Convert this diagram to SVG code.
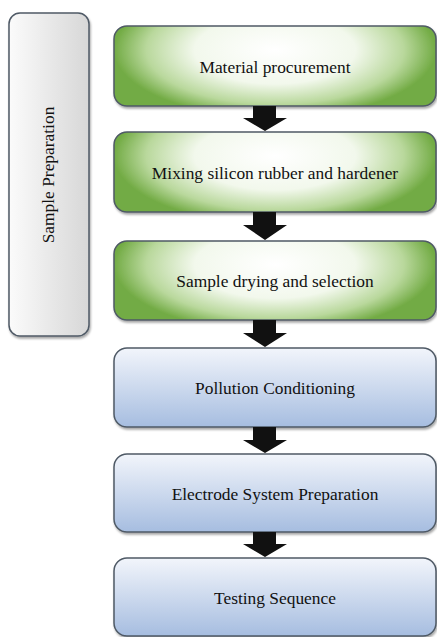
<svg xmlns="http://www.w3.org/2000/svg" width="437" height="637" viewBox="0 0 437 637">
  <defs>
    <radialGradient id="gGreen" cx="0.5" cy="0.3" r="0.5" gradientTransform="translate(0.5,0.3) scale(1,1.7) translate(-0.5,-0.3)">
      <stop offset="0" stop-color="#ffffff"/>
      <stop offset="0.5" stop-color="#f2f8ec"/>
      <stop offset="0.8" stop-color="#b9d89c"/>
      <stop offset="1" stop-color="#72ab44"/>
    </radialGradient>
    <linearGradient id="gBlue" x1="0" y1="0" x2="0" y2="1">
      <stop offset="0" stop-color="#f2f5fb"/>
      <stop offset="1" stop-color="#a6bde0"/>
    </linearGradient>
    <linearGradient id="gGray" x1="0" y1="0" x2="1" y2="0">
      <stop offset="0" stop-color="#fbfbfb"/>
      <stop offset="1" stop-color="#d7d7d7"/>
    </linearGradient>
    <filter id="shadow" x="-5%" y="-5%" width="115%" height="120%">
      <feDropShadow dx="1" dy="2" stdDeviation="1.2" flood-color="#000" flood-opacity="0.35"/>
    </filter>
  </defs>
  <style>
    .box { stroke: #4f5a66; stroke-width: 1.5; filter: url(#shadow); }
    .green { fill: url(#gGreen); }
    .blue { fill: url(#gBlue); }
    .gray { fill: url(#gGray); }
    .label { font-family: "Liberation Serif", "Times New Roman", serif; font-size: 17.4px; fill: #111111; text-anchor: middle; }
    .arrow { fill: #111111; }
  </style>

  <g id="sample-preparation">
    <rect class="box gray" x="9" y="13" width="80" height="323" rx="11"/>
    <text class="label" transform="translate(54,175) rotate(-90)" x="0" y="0">Sample Preparation</text>
  </g>

  <g id="material-procurement">
    <rect class="box green" x="114" y="26" width="322" height="80" rx="13"/>
    <text class="label" x="275" y="72.5">Material procurement</text>
  </g>

  <g id="mixing">
    <rect class="box green" x="114" y="132" width="322" height="80" rx="13"/>
    <text class="label" x="275" y="178.5">Mixing silicon rubber and hardener</text>
  </g>

  <g id="drying">
    <rect class="box green" x="114" y="241" width="322" height="79" rx="13"/>
    <text class="label" x="275" y="287">Sample drying and selection</text>
  </g>

  <g id="pollution">
    <rect class="box blue" x="114" y="348" width="322" height="79" rx="13"/>
    <text class="label" x="275" y="394">Pollution Conditioning</text>
  </g>

  <g id="electrode">
    <rect class="box blue" x="114" y="454" width="322" height="78" rx="13"/>
    <text class="label" x="275" y="499.5">Electrode System Preparation</text>
  </g>

  <g id="testing">
    <rect class="box blue" x="114" y="558" width="322" height="78" rx="13"/>
    <text class="label" x="275" y="604">Testing Sequence</text>
  </g>

  <g id="connectors">
    <polygon class="arrow" points="253,106 276,106 276,118 287,118 265,131 243,118 253,118"/>
    <polygon class="arrow" points="253,212 276,212 276,225 287,225 265,240 243,225 253,225"/>
    <polygon class="arrow" points="253,320 276,320 276,333 287,333 265,347 243,333 253,333"/>
    <polygon class="arrow" points="253,427 276,427 276,440 287,440 265,453 243,440 253,440"/>
    <polygon class="arrow" points="253,532 276,532 276,544 287,544 265,557 243,544 253,544"/>
  </g>
</svg>
